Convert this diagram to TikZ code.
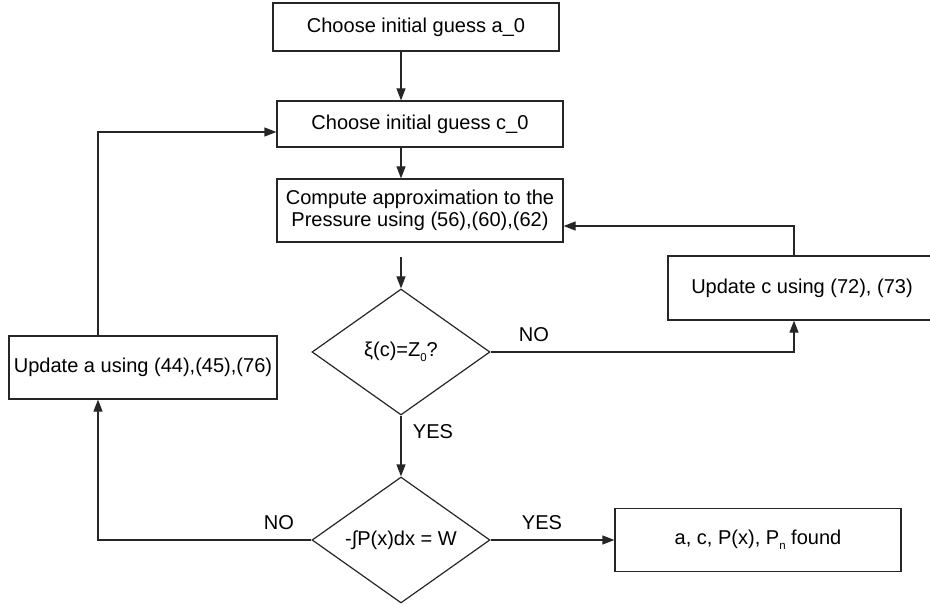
\documentclass[tikz,border=0pt]{standalone}
\usepackage{fontspec}
\setmainfont{Liberation Sans}
\usetikzlibrary{shapes.geometric,arrows.meta}

% low, small subscript as used in the labels
\newcommand{\lowsub}[1]{\raisebox{-5bp}{\fontsize{11.5}{11.5}\selectfont #1}}

\begin{document}
\begin{tikzpicture}[x=1bp,y=-1bp,
  every node/.style={font=\fontsize{20.1}{22.5}\selectfont, text=black},
  box/.style={draw=black!85, line width=1.2bp, rectangle, inner sep=0pt, align=center},
  decision/.style={draw=black!85, line width=1.2bp, diamond, inner sep=0pt,
    aspect=1.41, minimum width=178bp, minimum height=126bp},
  flow/.style={draw=black!85, line width=1.2bp, -{Triangle[length=12bp,width=9bp]}},
  tag/.style={inner sep=0pt}
]
\useasboundingbox (0,0) rectangle (930,607);

% process boxes and decisions
\node[box, minimum width=286bp, minimum height=48bp] (guessA) at (416,27) {Choose initial guess a\_0};
\node[box, minimum width=286bp, minimum height=46bp] (guessC) at (420,124) {Choose initial guess c\_0};
\node[box, minimum width=286bp, minimum height=63bp] (pressure) at (420,210.5)
  {Compute approximation to the\\Pressure using (56),(60),(62)};
\node[decision] (zcheck) at (401,352) {ξ(c)=Z\lowsub{0}?};
\node[box, minimum width=268bp, minimum height=64bp] (updC) at (802,288) {Update c using (72), (73)};
\node[box, minimum width=268bp, minimum height=63bp] (updA) at (143,367.5) {Update a using (44),(45),(76)};
\node[decision] (wcheck) at (401,540) {-∫P(x)dx = W};
\node[box, minimum width=286bp, minimum height=63bp] (result) at (758,540) {a, c, P(x), P\lowsub{n} found};

% routing points
\coordinate (gapTop) at (401,257);
\coordinate (cLoop) at (794,226);
\coordinate (aLoop) at (98,132);

% main line
\draw[flow] (guessA.south -| zcheck.north) -- (guessC.north -| zcheck.north);
\draw[flow] (guessC.south -| zcheck.north) -- (pressure.north -| zcheck.north);
\draw[flow] (gapTop) -- (zcheck.north);
\draw[flow] (zcheck.south) -- (wcheck.north);
\draw[flow] (wcheck.east) -- (result.west);

% update c loop
\draw[flow] (zcheck.east) -| (cLoop |- updC.south);
\draw[flow] (cLoop |- updC.north) -- (cLoop) -- (cLoop -| pressure.east);

% update a loop
\draw[flow] (wcheck.west) -| (aLoop |- updA.south);
\draw[flow] (aLoop |- updA.north) -- (aLoop) -- (guessC.west |- aLoop);

% branch labels
\node[tag] (noZ) at (534,335) {NO};
\node[tag] (yesZ) at (433,432) {YES};
\node[tag] (noW) at (279,523) {NO};
\node[tag] (yesW) at (542,523) {YES};
\end{tikzpicture}
\end{document}
